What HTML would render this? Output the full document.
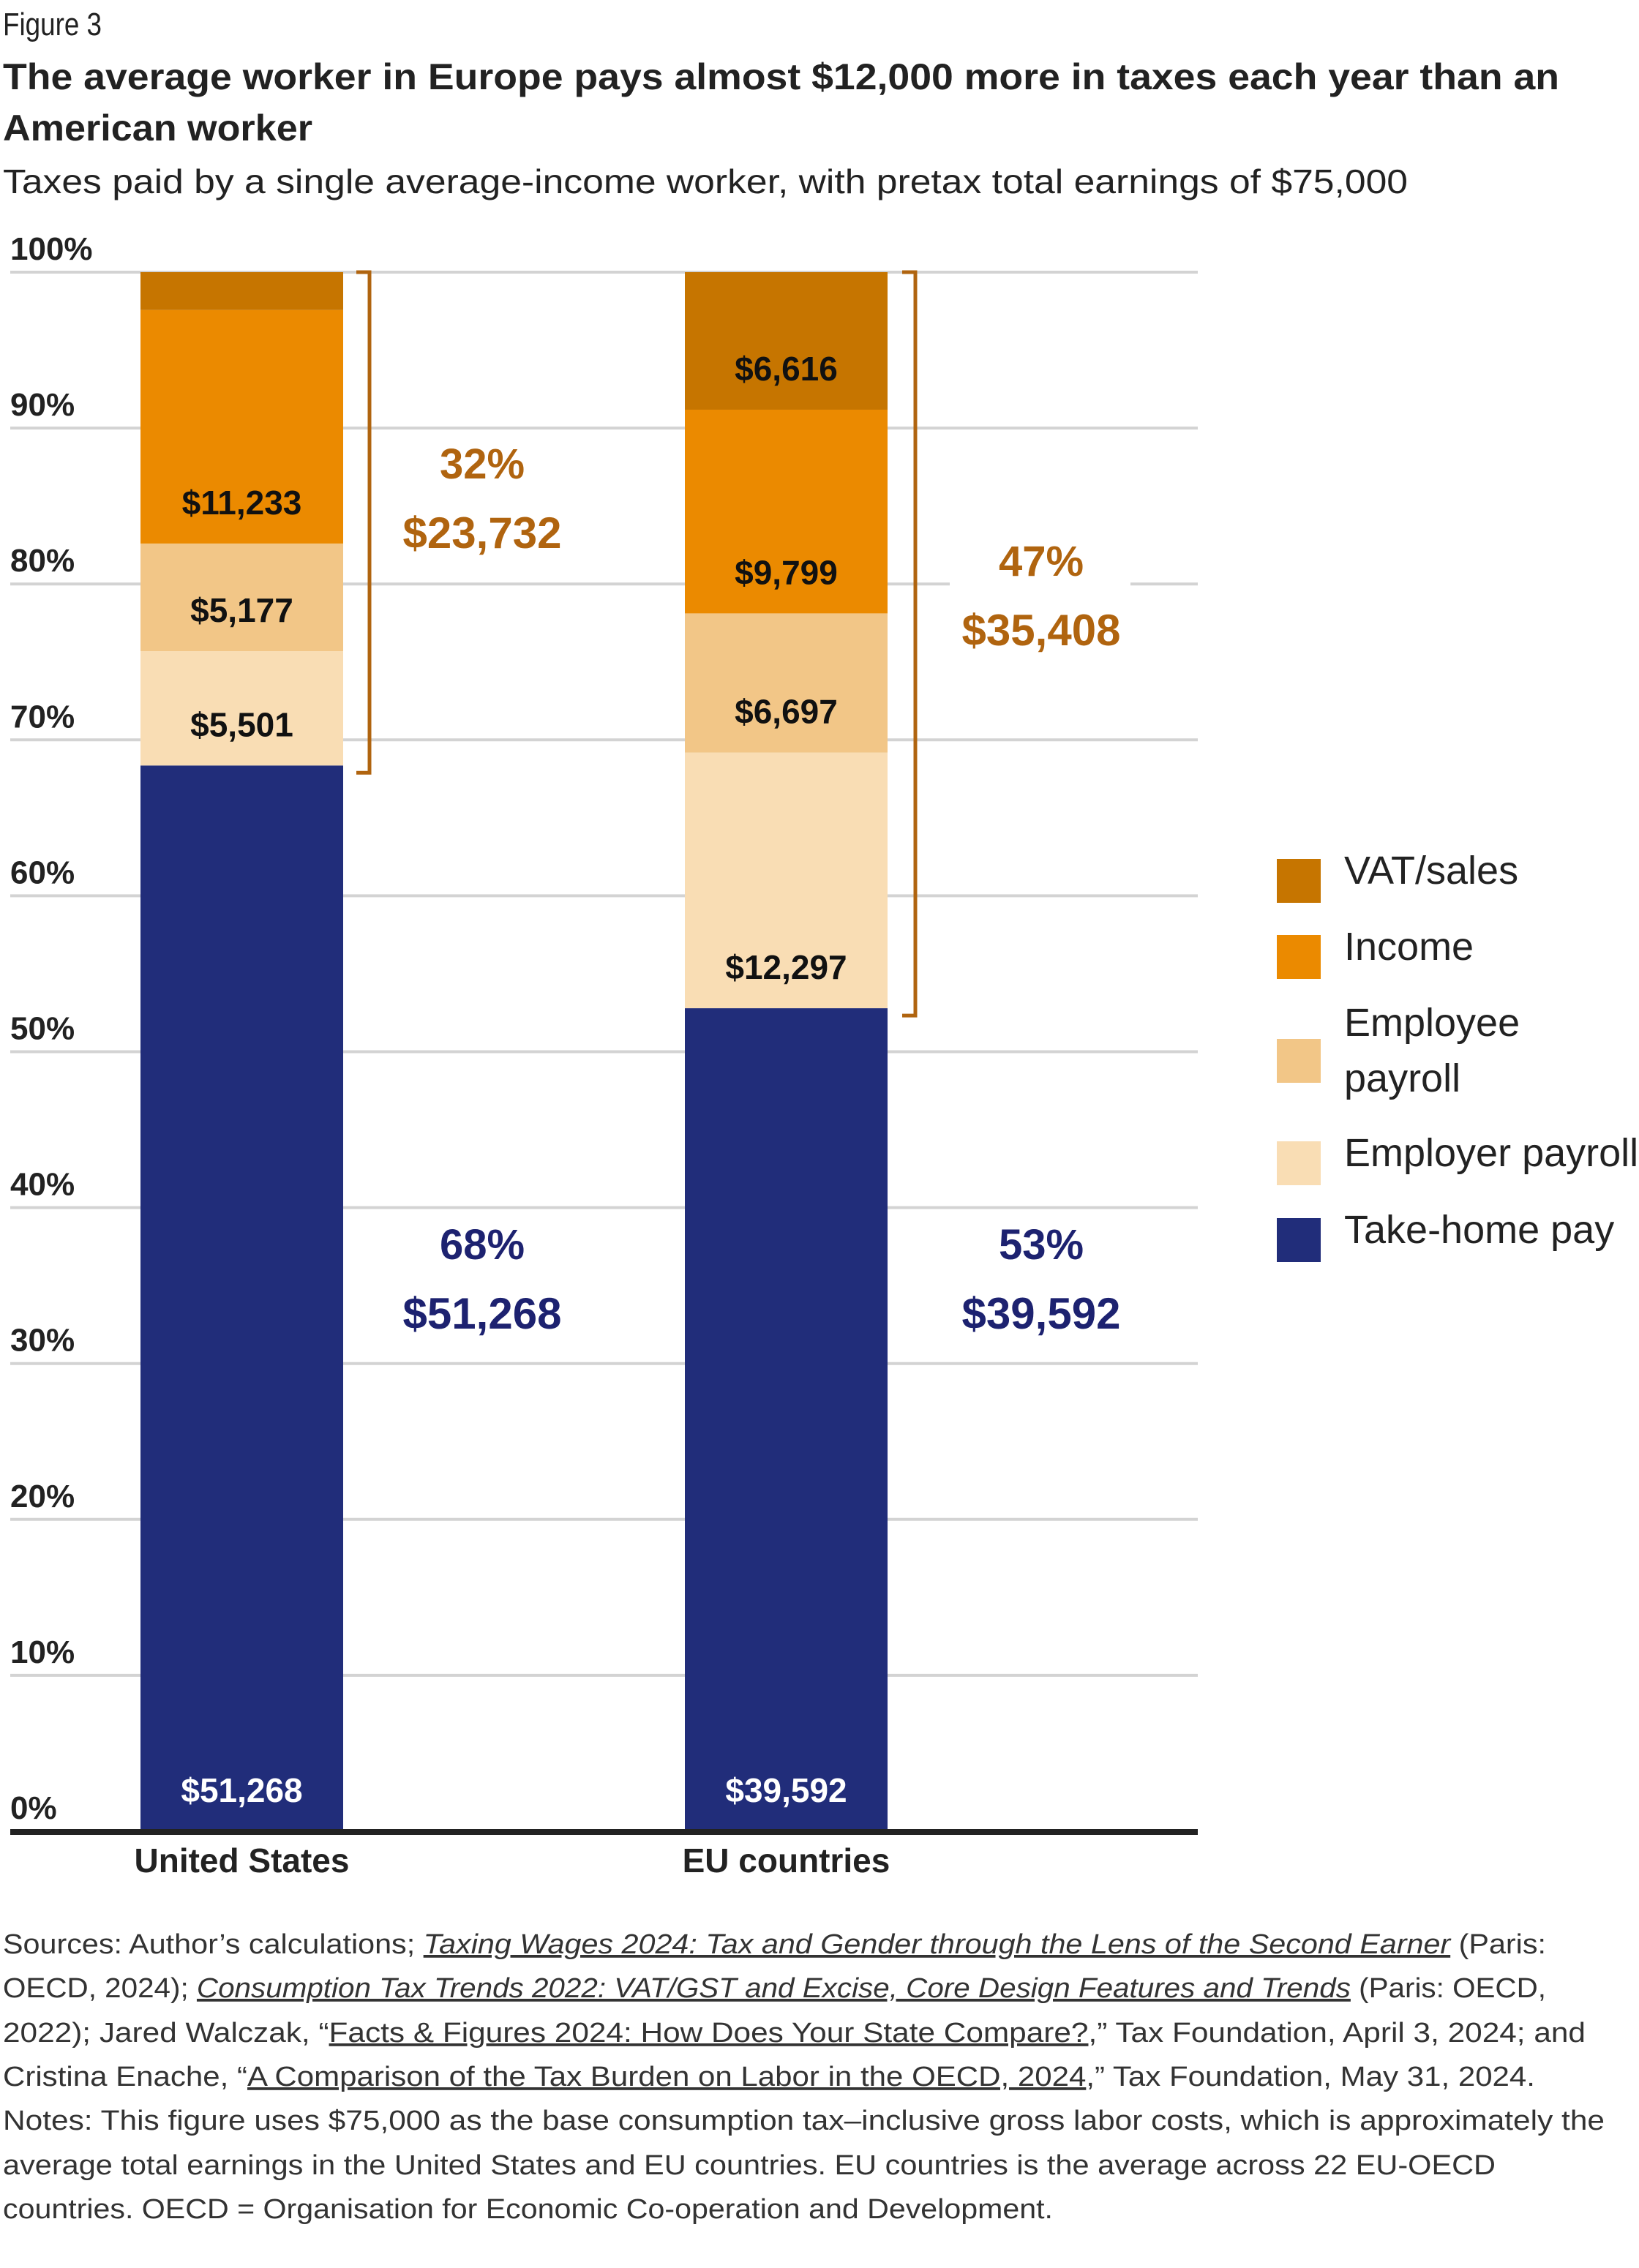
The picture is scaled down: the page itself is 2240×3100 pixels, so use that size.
<!DOCTYPE html>
<html><head><meta charset="utf-8">
<style>
html,body{margin:0;padding:0;background:#fff;}
svg{display:block;font-family:"Liberation Sans",sans-serif;}
</style></head>
<body>
<svg id="chart" width="2240" height="3100" viewBox="0 0 2240 3100" xmlns="http://www.w3.org/2000/svg">
<text x="4" y="48" font-size="44" fill="#222" textLength="135" lengthAdjust="spacingAndGlyphs">Figure 3</text>
<text x="4" y="122" font-size="50" font-weight="bold" fill="#222" textLength="2127" lengthAdjust="spacingAndGlyphs">The average worker in Europe pays almost $12,000 more in taxes each year than an</text>
<text x="4" y="192" font-size="50" font-weight="bold" fill="#222" textLength="423" lengthAdjust="spacingAndGlyphs">American worker</text>
<text x="4" y="264" font-size="46" fill="#222" textLength="1920" lengthAdjust="spacingAndGlyphs">Taxes paid by a single average-income worker, with pretax total earnings of $75,000</text>
<g id="grid"></g>
<g id="ylabels"></g>
<g id="bars"></g>
<g id="annot"></g>
<g id="legend"></g>
<g font-size="38" fill="#333">
<text x="4" y="2670" textLength="2109" lengthAdjust="spacingAndGlyphs">Sources: Author’s calculations; <tspan font-style="italic" text-decoration="underline">Taxing Wages 2024: Tax and Gender through the Lens of the Second Earner</tspan> (Paris:</text>
<text x="4" y="2730" textLength="2109" lengthAdjust="spacingAndGlyphs">OECD, 2024); <tspan font-style="italic" text-decoration="underline">Consumption Tax Trends 2022: VAT/GST and Excise, Core Design Features and Trends</tspan> (Paris: OECD,</text>
<text x="4" y="2791" textLength="2163" lengthAdjust="spacingAndGlyphs">2022); Jared Walczak, “<tspan text-decoration="underline">Facts &amp; Figures 2024: How Does Your State Compare?</tspan>,” Tax Foundation, April 3, 2024; and</text>
<text x="4" y="2851" textLength="2094" lengthAdjust="spacingAndGlyphs">Cristina Enache, “<tspan text-decoration="underline">A Comparison of the Tax Burden on Labor in the OECD, 2024</tspan>,” Tax Foundation, May 31, 2024.</text>
<text x="4" y="2911" textLength="2189" lengthAdjust="spacingAndGlyphs">Notes: This figure uses $75,000 as the base consumption tax–inclusive gross labor costs, which is approximately the</text>
<text x="4" y="2972" textLength="2040" lengthAdjust="spacingAndGlyphs">average total earnings in the United States and EU countries. EU countries is the average across 22 EU-OECD</text>
<text x="4" y="3032" textLength="1435" lengthAdjust="spacingAndGlyphs">countries. OECD = Organisation for Economic Co-operation and Development.</text>
</g>
</svg>
<script>
const categories = ["United States", "EU countries"];
const seriesNames = ["Take-home pay", "Employer payroll", "Employee payroll", "Income", "VAT/sales"];
const takeHome = [51268, 39592];
const employerPayroll = [5501, 12297];
const employeePayroll = [5177, 6697];
const income = [11233, 9799];
const vatSales = [1821, 6616];
const taxTotals = [23732, 35408];
const grossEarnings = [75000, 75000];
const yTicks = [0, 10, 20, 30, 40, 50, 60, 70, 80, 90, 100];
const yTickLabels = ["0%", "10%", "20%", "30%", "40%", "50%", "60%", "70%", "80%", "90%", "100%"];

const NS = "http://www.w3.org/2000/svg";
const colors = ["#212d7a", "#f9ddb4", "#f2c687", "#eb8a00", "#c67500"];
const series = [takeHome, employerPayroll, employeePayroll, income, vatSales];
const plotL = 14, plotR = 1637, y0 = 2503, y100 = 372;
const barLeft = [192, 936], barW = 277;
function y(p) { return y0 - (y0 - y100) * p / 100; }
function mk(tag, attrs, parent) {
  const e = document.createElementNS(NS, tag);
  for (const k in attrs) e.setAttribute(k, attrs[k]);
  parent.appendChild(e); return e;
}
const grid = document.getElementById('grid');
const yl = document.getElementById('ylabels');
yTicks.forEach((t, i) => {
  if (t > 0) {
    const l = mk('line', {x1: plotL, x2: plotR, y1: y(t), y2: y(t), stroke: '#d3d3d3', 'stroke-width': 4}, grid);
    
    
  }
  const tx = mk('text', {x: 14, y: y(t) - 17, 'font-size': 44, 'font-weight': 'bold', fill: '#222'}, yl);
  tx.textContent = yTickLabels[i];
  
  
});
const bars = document.getElementById('bars');
categories.forEach((c, ci) => {
  const total = series.reduce((s, a) => s + a[ci], 0);
  let cum = 0;
  series.forEach((arr, si) => {
    const v = arr[ci];
    const p0 = cum / total * 100, p1 = (cum + v) / total * 100;
    cum += v;
    const r = mk('rect', {x: barLeft[ci], y: y(p1), width: barW, height: y(p0) - y(p1), fill: colors[si]}, bars);
    
    
    if (y(p0) - y(p1) > 70) {
      const t = mk('text', {x: barLeft[ci] + barW / 2, y: y(p0) - 40, 'font-size': 46, 'font-weight': 'bold', 'text-anchor': 'middle', fill: si === 0 ? '#fff' : '#111'}, bars);
      t.textContent = '$' + v.toLocaleString('en-US');
      
      
    }
  });
  const cl = mk('text', {x: barLeft[ci] + barW / 2, y: 2559, 'font-size': 46, 'font-weight': 'bold', 'text-anchor': 'middle', fill: '#222'}, bars);
  cl.textContent = c;
  
  
});
const ax = mk('rect', {x: plotL, y: y0 - 3, width: plotR - plotL, height: 8, fill: '#222'}, bars);



const annot = document.getElementById('annot');
const bracketX = [505, 1251], textX = [659, 1423], labelShift = [0, -33];
categories.forEach((c, ci) => {
  const total = series.reduce((s, a) => s + a[ci], 0);
  const pTake = takeHome[ci] / total * 100;
  const yb = y(pTake);
  const br = mk('path', {d: `M${bracketX[ci]-18},${y100} H${bracketX[ci]} V${yb + 10} H${bracketX[ci]-18}`, fill: 'none', stroke: '#b0640f', 'stroke-width': 5}, annot);
  
  
  const ymid = (y100 + yb) / 2 + labelShift[ci];
  if (ci === 1) {
    const bg = mk('rect', {x: 1298, y: ymid - 130, width: 247, height: 200, fill: '#fff'}, annot);
    
    
  }
  const t1 = mk('text', {x: textX[ci], y: ymid - 55, 'font-size': 58, 'font-weight': 'bold', 'text-anchor': 'middle', fill: '#b0640f'}, annot);
  t1.textContent = Math.round(taxTotals[ci] / grossEarnings[ci] * 100) + '%';
  
  
  const t2 = mk('text', {x: textX[ci], y: ymid + 40, 'font-size': 60, 'font-weight': 'bold', 'text-anchor': 'middle', fill: '#b0640f'}, annot);
  t2.textContent = '$' + taxTotals[ci].toLocaleString('en-US');
  
  
  const t3 = mk('text', {x: textX[ci], y: 1721, 'font-size': 58, 'font-weight': 'bold', 'text-anchor': 'middle', fill: '#1d2270'}, annot);
  t3.textContent = Math.round(takeHome[ci] / grossEarnings[ci] * 100) + '%';
  
  
  const t4 = mk('text', {x: textX[ci], y: 1816, 'font-size': 60, 'font-weight': 'bold', 'text-anchor': 'middle', fill: '#1d2270'}, annot);
  t4.textContent = '$' + takeHome[ci].toLocaleString('en-US');
  
  
});

const legend = document.getElementById('legend');
const legendItems = [
  {si: 4, lines: ["VAT/sales"], sy: 1174},
  {si: 3, lines: ["Income"], sy: 1278},
  {si: 2, lines: ["Employee", "payroll"], sy: 1420},
  {si: 1, lines: ["Employer payroll"], sy: 1560},
  {si: 0, lines: ["Take-home pay"], sy: 1665}
];
legendItems.forEach(it => {
  const r = mk('rect', {x: 1745, y: it.sy, width: 60, height: 60, fill: colors[it.si]}, legend);
  
  
  const n = it.lines.length;
  it.lines.forEach((ln, k) => {
    const t = mk('text', {x: 1837, y: it.sy + 34 + (k - (n - 1) / 2) * 76, 'font-size': 54, fill: '#222'}, legend);
    t.textContent = ln;
    
    
  });
});
</script>
</body></html>
